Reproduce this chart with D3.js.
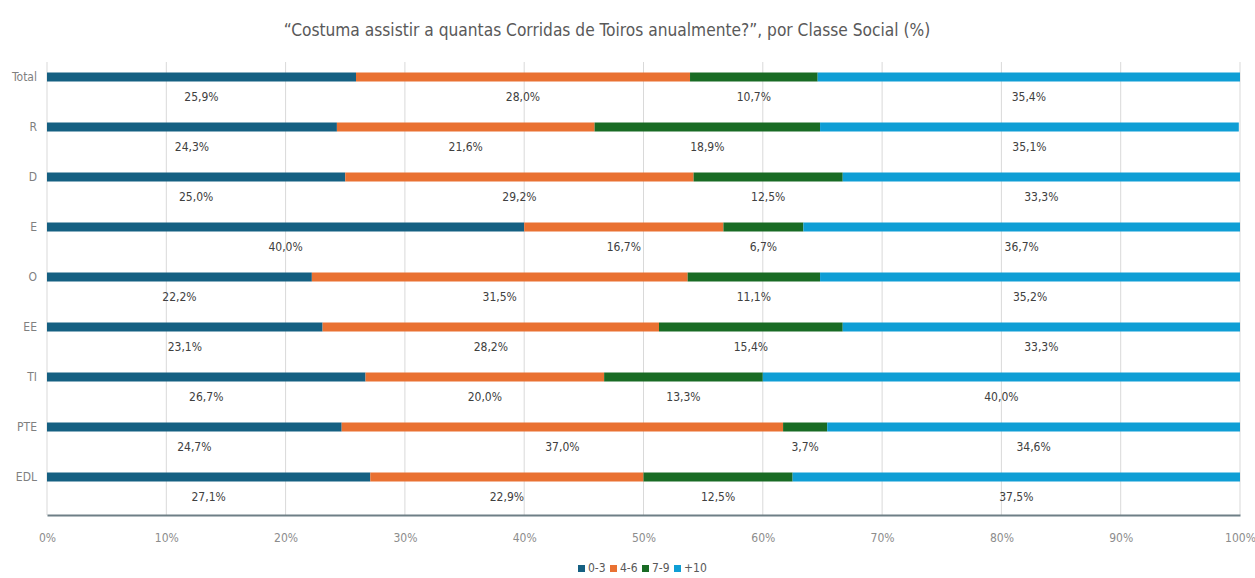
<!DOCTYPE html>
<html>
<head>
<meta charset="utf-8">
<script src="https://cdn.jsdelivr.net/npm/d3@7"></script>
<style>
  body { margin: 0; background: #fff; }
  svg text { font-family: "DejaVu Sans", sans-serif; font-stretch: condensed; }
</style>
</head>
<body>
<svg id="chart" width="1255" height="578"></svg>
<script>
// categories (rows) and answer groups
const classes = ['Total', 'R', 'D', 'E', 'O', 'EE', 'TI', 'PTE', 'EDL'];
const groups = ['0-3', '4-6', '7-9', '+10'];

// series values (%) per group, one per class
const g03 = [25.9, 24.3, 25.0, 40.0, 22.2, 23.1, 26.7, 24.7, 27.1];
const g46 = [28.0, 21.6, 29.2, 16.7, 31.5, 28.2, 20.0, 37.0, 22.9];
const g79 = [10.7, 18.9, 12.5, 6.7, 11.1, 15.4, 13.3, 3.7, 12.5];
const g10 = [35.4, 35.1, 33.3, 36.7, 35.2, 33.3, 40.0, 34.6, 37.5];

const xTicks = [0, 10, 20, 30, 40, 50, 60, 70, 80, 90, 100];

const colors = d3.scaleOrdinal(groups, ['#156082', '#e97132', '#196b24', '#0f9ed5']);

const rows = classes.map((c, i) => ({
  cls: c, '0-3': g03[i], '4-6': g46[i], '7-9': g79[i], '+10': g10[i]
}));
const stacked = d3.stack().keys(groups)(rows);

const svg = d3.select('#chart');

const x = d3.scaleLinear().domain([0, 100]).range([47, 1240]);
const y = d3.scaleBand().domain(classes).range([52, 502]);
const barH = 9;
const axisY = 515;

// title
svg.append('text')
  .attr('x', 607).attr('y', 36)
  .attr('text-anchor', 'middle')
  .attr('font-size', 17.2)
  .attr('fill', '#595959')
  .text('\u201CCostuma assistir a quantas Corridas de Toiros anualmente?\u201D, por Classe Social (%)');

// gridlines
svg.append('g')
  .selectAll('line')
  .data(xTicks)
  .join('line')
  .attr('x1', d => x(d)).attr('x2', d => x(d))
  .attr('y1', 62).attr('y2', axisY)
  .attr('stroke', '#d9d9d9')
  .attr('stroke-width', 1);

// x axis
const xAxis = svg.append('g')
  .attr('transform', `translate(0,${axisY})`)
  .call(d3.axisBottom(x).tickValues(xTicks).tickSize(0).tickPadding(18).tickFormat(d => d + '%'));
xAxis.select('.domain').attr('stroke', '#6e7f86').attr('stroke-width', 2);
xAxis.selectAll('text').attr('font-size', 12).attr('fill', '#8c8c8c');

// y axis labels
const yAxis = svg.append('g')
  .attr('transform', 'translate(47,0)')
  .call(d3.axisLeft(y).tickSize(0).tickPadding(10));
yAxis.select('.domain').remove();
yAxis.selectAll('text').attr('font-size', 12).attr('fill', '#7f7f7f');

// bars
const layer = svg.append('g')
  .selectAll('g')
  .data(stacked)
  .join('g')
  .attr('fill', d => colors(d.key));

layer.selectAll('rect')
  .data(d => d)
  .join('rect')
  .attr('x', d => x(d[0]))
  .attr('width', d => Math.min(x(d[1]), x(100)) - x(d[0]))
  .attr('y', d => y(d.data.cls) + y.bandwidth() / 2 - barH / 2)
  .attr('height', barH);

// data labels under each segment
layer.selectAll('text')
  .data(d => d.map(v => ({ v, key: d.key })))
  .join('text')
  .attr('x', d => x((d.v[0] + Math.min(d.v[1], 100)) / 2))
  .attr('y', d => y(d.v.data.cls) + y.bandwidth() / 2 + 24)
  .attr('text-anchor', 'middle')
  .attr('font-size', 12)
  .attr('fill', '#404040')
  .text(d => d.v.data[d.key].toFixed(1).replace('.', ',') + '%');

// legend
const legend = svg.append('g').attr('transform', 'translate(578,572)');
const itemW = [32, 32, 32, 32];
const items = legend.selectAll('g')
  .data(groups)
  .join('g')
  .attr('transform', (d, i) => `translate(${d3.sum(itemW.slice(0, i))},0)`);
items.append('rect')
  .attr('x', 0).attr('y', -7)
  .attr('width', 7).attr('height', 7)
  .attr('fill', d => colors(d));
items.append('text')
  .attr('x', 10).attr('y', 0)
  .attr('font-size', 12)
  .attr('fill', '#595959')
  .text(d => d);
</script>
</body>
</html>
